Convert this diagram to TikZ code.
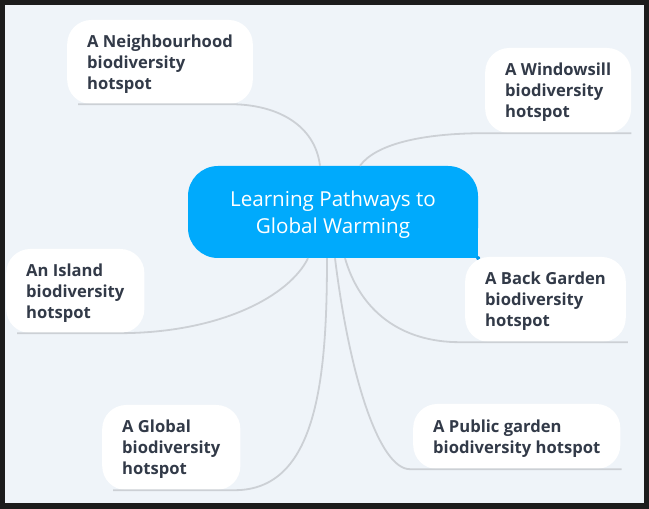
\documentclass[tikz,border=0pt]{standalone}
\usepackage{fontspec}
\setmainfont{Open Sans}
\definecolor{framegray}{RGB}{28,28,28}
\definecolor{canvas}{RGB}{239,244,249}
\definecolor{hubblue}{RGB}{0,170,252}
\definecolor{hubdot}{RGB}{0,150,235}
\definecolor{leafink}{RGB}{50,58,72}
\definecolor{branchgray}{RGB}{204,208,213}
\tikzset{
  hubnode/.style={fill=hubblue, rounded corners=30pt, text=white,
                  align=center, minimum width=290pt, minimum height=92pt,
                  inner sep=0pt, text depth=-4pt, font=\fontsize{20.6}{27}\selectfont},
  leaf/.style={fill=white, rounded corners=24pt, text=leafink, align=left,
               anchor=west, inner xsep=20pt, inner ysep=0pt, minimum height=84pt,
               text depth=-2pt, font=\fontsize{16.6}{21}\selectfont\bfseries},
  branch/.style={draw=branchgray, line width=1.8pt}
}
\begin{document}
\begin{tikzpicture}[x=1pt, y=1pt]
  \fill[framegray] (0,0) rectangle (649,509);
  \fill[canvas] (5,6) rectangle (644,504);
  % centre
  \node[hubnode] (hub) at (333,297) {Learning Pathways to\\Global Warming};
  \fill[hubblue] (hub.south east) rectangle +(-30,30);
  \fill[hubdot] (hub.south east) circle (2);
  % topics
  \node[leaf] (nbh) at (67,447) {A Neighbourhood\\biodiversity\\hotspot};
  \node[leaf, minimum height=85pt] (win) at (485,418.5) {A Windowsill\\biodiversity\\hotspot};
  \node[leaf] (isl) at (6,218) {An Island\\biodiversity\\hotspot};
  \node[leaf, minimum height=85pt] (glob) at (102,61.5) {A Global\\biodiversity\\hotspot};
  \node[leaf, minimum height=85pt] (back) at (465,209.5) {A Back Garden\\biodiversity\\hotspot};
  \node[leaf, minimum height=65pt] (pub) at (413,72.5) {A Public garden\\biodiversity hotspot};
  % branches
  \draw[branch] ([xshift=11pt]nbh.south west) -- ([xshift=-23pt]nbh.south east)
    .. controls +(47,0) and +(-5,41) .. ([xshift=-13pt]hub.north);
  \draw[branch] (win.south east) -- (win.south west)
    .. controls +(-65,0) and +(15,21) .. ([xshift=27pt]hub.north);
  \draw[branch] ([xshift=11pt]isl.south west) -- ([xshift=-26pt]isl.south east)
    .. controls +(103,0) and +(-18,-37) .. ([xshift=-25pt]hub.south);
  \draw[branch] ([xshift=11pt]glob.south west) -- ([xshift=-6pt]glob.south east)
    .. controls +(82,0) and +(0,-122) .. ([xshift=-6pt]hub.south);
  \draw[branch] ([xshift=2pt]back.south east) -- ([xshift=-5pt]back.south west)
    .. controls +(-60,0) and +(15,-52) .. ([xshift=12pt]hub.south);
  \draw[branch] ([xshift=1pt]pub.south east) -- ([xshift=-3pt]pub.south west)
    .. controls +(-30,0) and +(15,-122) .. ([xshift=2pt]hub.south);
\end{tikzpicture}
\end{document}
